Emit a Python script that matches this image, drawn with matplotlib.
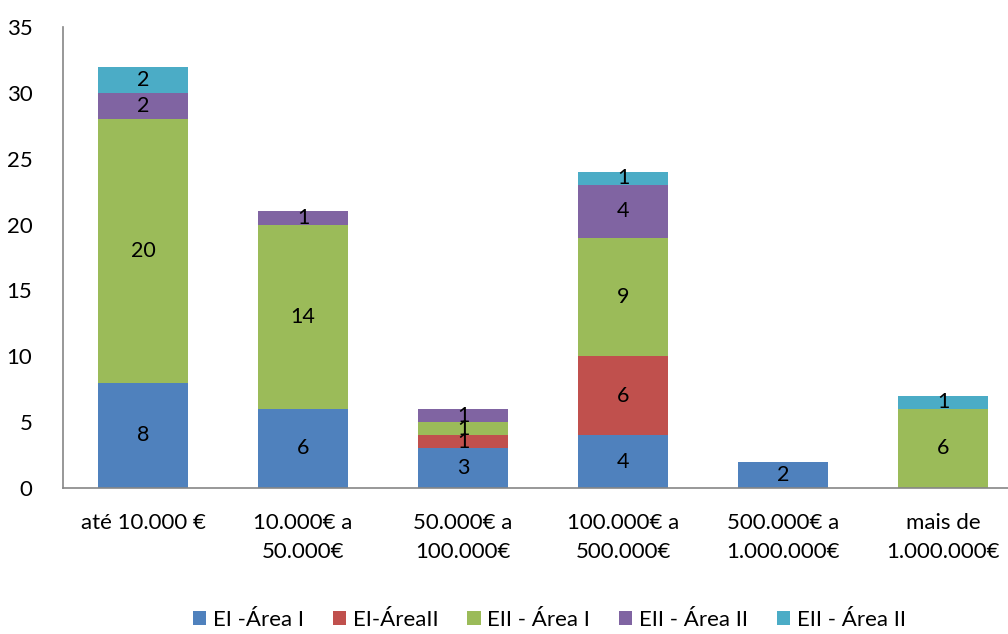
import matplotlib
matplotlib.use("Agg")
import matplotlib.pyplot as plt
import numpy as np

categories = [
    "até 10.000 €",
    "10.000€ a\n50.000€",
    "50.000€ a\n100.000€",
    "100.000€ a\n500.000€",
    "500.000€ a\n1.000.000€",
    "mais de\n1.000.000€",
]
series_names = ["EI -Área I", "EI-ÁreaII", "EII - Área I", "EII - Área II", "EII - Área II"]
ei_area1 = [8, 6, 3, 4, 2, 0]
ei_area2 = [0, 0, 1, 6, 0, 0]
eii_area1 = [20, 14, 1, 9, 0, 6]
eii_area2 = [2, 1, 1, 4, 0, 0]
eii_area2b = [2, 0, 0, 1, 0, 1]
colors = ["#4F81BD", "#C0504D", "#9BBB59", "#8064A2", "#4BACC6"]

plt.rcParams["font.family"] = ["Lato", "DejaVu Sans"]

fig = plt.figure(figsize=(10.08, 6.34), dpi=100)
ax = fig.add_axes([63 / 1008, 146 / 634, 960 / 1008, 461 / 634])

x = np.arange(len(categories))
bottom = np.zeros(len(categories))
handles = []
for name, vals, col in zip(series_names,
                           [ei_area1, ei_area2, eii_area1, eii_area2, eii_area2b],
                           colors):
    vals = np.array(vals, dtype=float)
    bars = ax.bar(x, vals, width=0.5625, bottom=bottom, color=col, label=name, zorder=2)
    handles.append(bars)
    for xi, b, v in zip(x, bottom, vals):
        if v > 0:
            ax.text(xi, b + v / 2, f"{int(v)}", ha="center", va="center",
                    fontsize=15.5, color="black", zorder=3)
    bottom += vals

ax.set_xlim(-0.5, 5.5)
ax.set_ylim(0, 35)
ax.set_yticks(range(0, 36, 5))
ax.set_xticks(x)
ax.set_xticklabels(categories, fontsize=16, linespacing=1.55)
ax.tick_params(axis="y", length=0, labelsize=16, pad=22)
ax.tick_params(axis="x", length=0, pad=18)
for s in ["top", "right"]:
    ax.spines[s].set_visible(False)
for s in ["left", "bottom"]:
    ax.spines[s].set_color("#868686")
    ax.spines[s].set_linewidth(1.2)

fig.legend(handles=handles, labels=series_names, loc="center", bbox_to_anchor=(0.545, 0.022),
           ncol=5, frameon=False, fontsize=16, handlelength=0.6, handleheight=0.6,
           handletextpad=0.3, columnspacing=1.3, borderpad=0.1)

fig.savefig("out.png", dpi=100)
